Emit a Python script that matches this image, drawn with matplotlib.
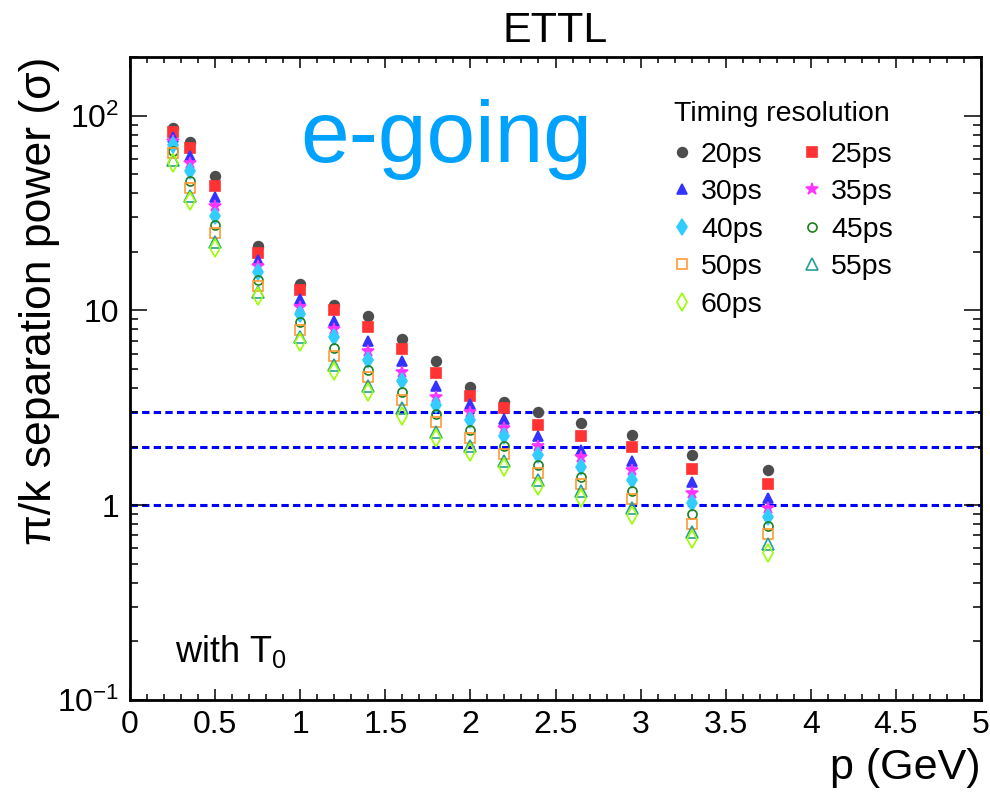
import matplotlib
matplotlib.use('Agg')
import matplotlib.pyplot as plt
from matplotlib.ticker import FixedLocator, FixedFormatter, MultipleLocator, LogLocator, NullFormatter

plt.rcParams['font.family'] = ['Liberation Sans', 'DejaVu Sans']
plt.rcParams['mathtext.fontset'] = 'custom'
plt.rcParams['mathtext.rm'] = 'Liberation Sans'
plt.rcParams['mathtext.it'] = 'Liberation Sans:italic'

# momentum bins (GeV)
p = [0.25, 0.35, 0.5, 0.75, 1.0, 1.2, 1.4, 1.6, 1.8, 2.0, 2.2, 2.4, 2.65, 2.95, 3.3, 3.75]

# pi/k separation power (sigma) per timing resolution
sep_20 = [86, 73, 49.1, 21.3, 13.7, 10.7, 9.33, 7.14, 5.48, 4.05, 3.37, 3.00, 2.64, 2.28, 1.82, 1.52]
sep_25 = [82.8, 68.4, 43.4, 19.7, 12.7, 10.0, 8.19, 6.34, 4.78, 3.62, 3.16, 2.59, 2.26, 1.98, 1.54, 1.29]
sep_30 = [78, 61.9, 38.1, 18.1, 11.5, 8.8, 6.94, 5.52, 4.11, 3.32, 2.77, 2.26, 1.93, 1.69, 1.31, 1.09]
sep_35 = [74, 57.2, 34.5, 17.0, 10.4, 8.04, 6.17, 4.81, 3.59, 3.00, 2.49, 2.02, 1.77, 1.51, 1.16, 0.97]
sep_40 = [71, 51.8, 30.7, 15.8, 9.6, 7.31, 5.54, 4.32, 3.28, 2.73, 2.26, 1.82, 1.57, 1.34, 1.03, 0.87]
sep_45 = [66, 46.4, 27.3, 14.3, 8.7, 6.41, 4.92, 3.80, 2.95, 2.44, 2.02, 1.61, 1.40, 1.18, 0.90, 0.78]
sep_50 = [64, 42.6, 25.0, 13.4, 7.9, 5.86, 4.55, 3.45, 2.66, 2.21, 1.84, 1.47, 1.29, 1.08, 0.80, 0.71]
sep_55 = [59.5, 38.5, 22.4, 12.5, 7.31, 5.27, 4.11, 3.16, 2.39, 2.02, 1.68, 1.35, 1.18, 0.97, 0.73, 0.63]
sep_60 = [57, 36.3, 20.9, 11.8, 6.89, 4.87, 3.80, 2.88, 2.21, 1.87, 1.58, 1.25, 1.09, 0.89, 0.67, 0.57]

labels = ['20ps', '25ps', '30ps', '35ps', '40ps', '45ps', '50ps', '55ps', '60ps']
series = [sep_20, sep_25, sep_30, sep_35, sep_40, sep_45, sep_50, sep_55, sep_60]
thresholds = [3, 2, 1]

# marker, colour, filled, size
styles = [
	('o', '#4d4d4d', True, 7),
	('s', '#ff3333', True, 6.5),
	('^', '#3333ff', True, 7.5),
	('*', '#ff33ff', True, 9),
	('d', '#33ccff', True, 8.5),
	('o', '#1f7f1f', False, 6.5),
	('s', '#ff9933', False, 7),
	('^', '#269e9e', False, 8),
	('d', '#99ff00', False, 9),
]

fig = plt.figure(figsize=(9.9, 7.95), dpi=100)
ax = fig.add_axes([130 / 990, 1 - 700 / 795, 851 / 990, 643 / 795])

for y in thresholds:
	ax.axhline(y, color='#0000ff', lw=2.2, ls=(0, (2.4, 1.4)), zorder=1)

handles = []
for lab, vals, (m, c, filled, ms) in zip(labels, series, styles):
	h, = ax.plot(p, vals, ls='none', marker=m, ms=ms, mec=c, mew=1.2,
		mfc=c if filled else 'none', label=lab, zorder=3)
	handles.append(h)

ax.set_xlim(0, 5)
ax.set_yscale('log')
ax.set_ylim(0.1, 200)

ax.xaxis.set_major_locator(FixedLocator([0, 0.5, 1, 1.5, 2, 2.5, 3, 3.5, 4, 4.5, 5]))
ax.xaxis.set_major_formatter(FixedFormatter(['0', '0.5', '1', '1.5', '2', '2.5', '3', '3.5', '4', '4.5', '5']))
ax.xaxis.set_minor_locator(MultipleLocator(0.1))
ax.yaxis.set_major_locator(FixedLocator([0.1, 1, 10, 100]))
ax.yaxis.set_major_formatter(FixedFormatter(['$10^{-1}$', '1', '10', '$10^{2}$']))
ax.yaxis.set_minor_locator(LogLocator(base=10, subs=range(2, 10)))
ax.yaxis.set_minor_formatter(NullFormatter())

ax.tick_params(axis='both', which='both', direction='in', top=True, right=True, width=1.1, labelsize=23)
ax.tick_params(axis='x', which='major', length=8, pad=7)
ax.tick_params(axis='x', which='minor', length=4)
ax.tick_params(axis='y', which='major', length=12.5, pad=8)
ax.tick_params(axis='y', which='minor', length=6)
for s in ax.spines.values():
	s.set_linewidth(2)

ax.set_xlabel('p (GeV)', fontsize=31, loc='right')
ax.xaxis.set_label_coords(1.0, -0.075)
ax.set_ylabel('π/k separation power (σ)', fontsize=32, loc='top')
ax.yaxis.set_label_coords(-0.082, 1.0)

fig.text(555 / 990, 1 - 31 / 795, 'ETTL', fontsize=31, ha='center', va='center')
fig.text(300 / 990, 1 - 162 / 795, 'e-going', fontsize=63, color='#00a2ff', ha='left', va='baseline')
fig.text(175 / 990, 1 - 662 / 795, 'with $\\mathrm{T}_{0}$', fontsize=26, ha='left', va='baseline')
fig.text(782 / 990, 1 - 114 / 795, 'Timing resolution', fontsize=20.5, ha='center', va='center')

order = [0, 2, 4, 6, 8, 1, 3, 5, 7]
leg = ax.legend([handles[i] for i in order], [labels[i] for i in order], ncol=2,
	fontsize=20.5, frameon=False,
	loc='upper left', bbox_to_anchor=(671 / 990, 1 - 142 / 795), bbox_transform=fig.transFigure,
	borderpad=0, borderaxespad=0, handlelength=0.8, handletextpad=0.25,
	columnspacing=1.35, labelspacing=0.4)

fig.savefig('out.png', dpi=100)
